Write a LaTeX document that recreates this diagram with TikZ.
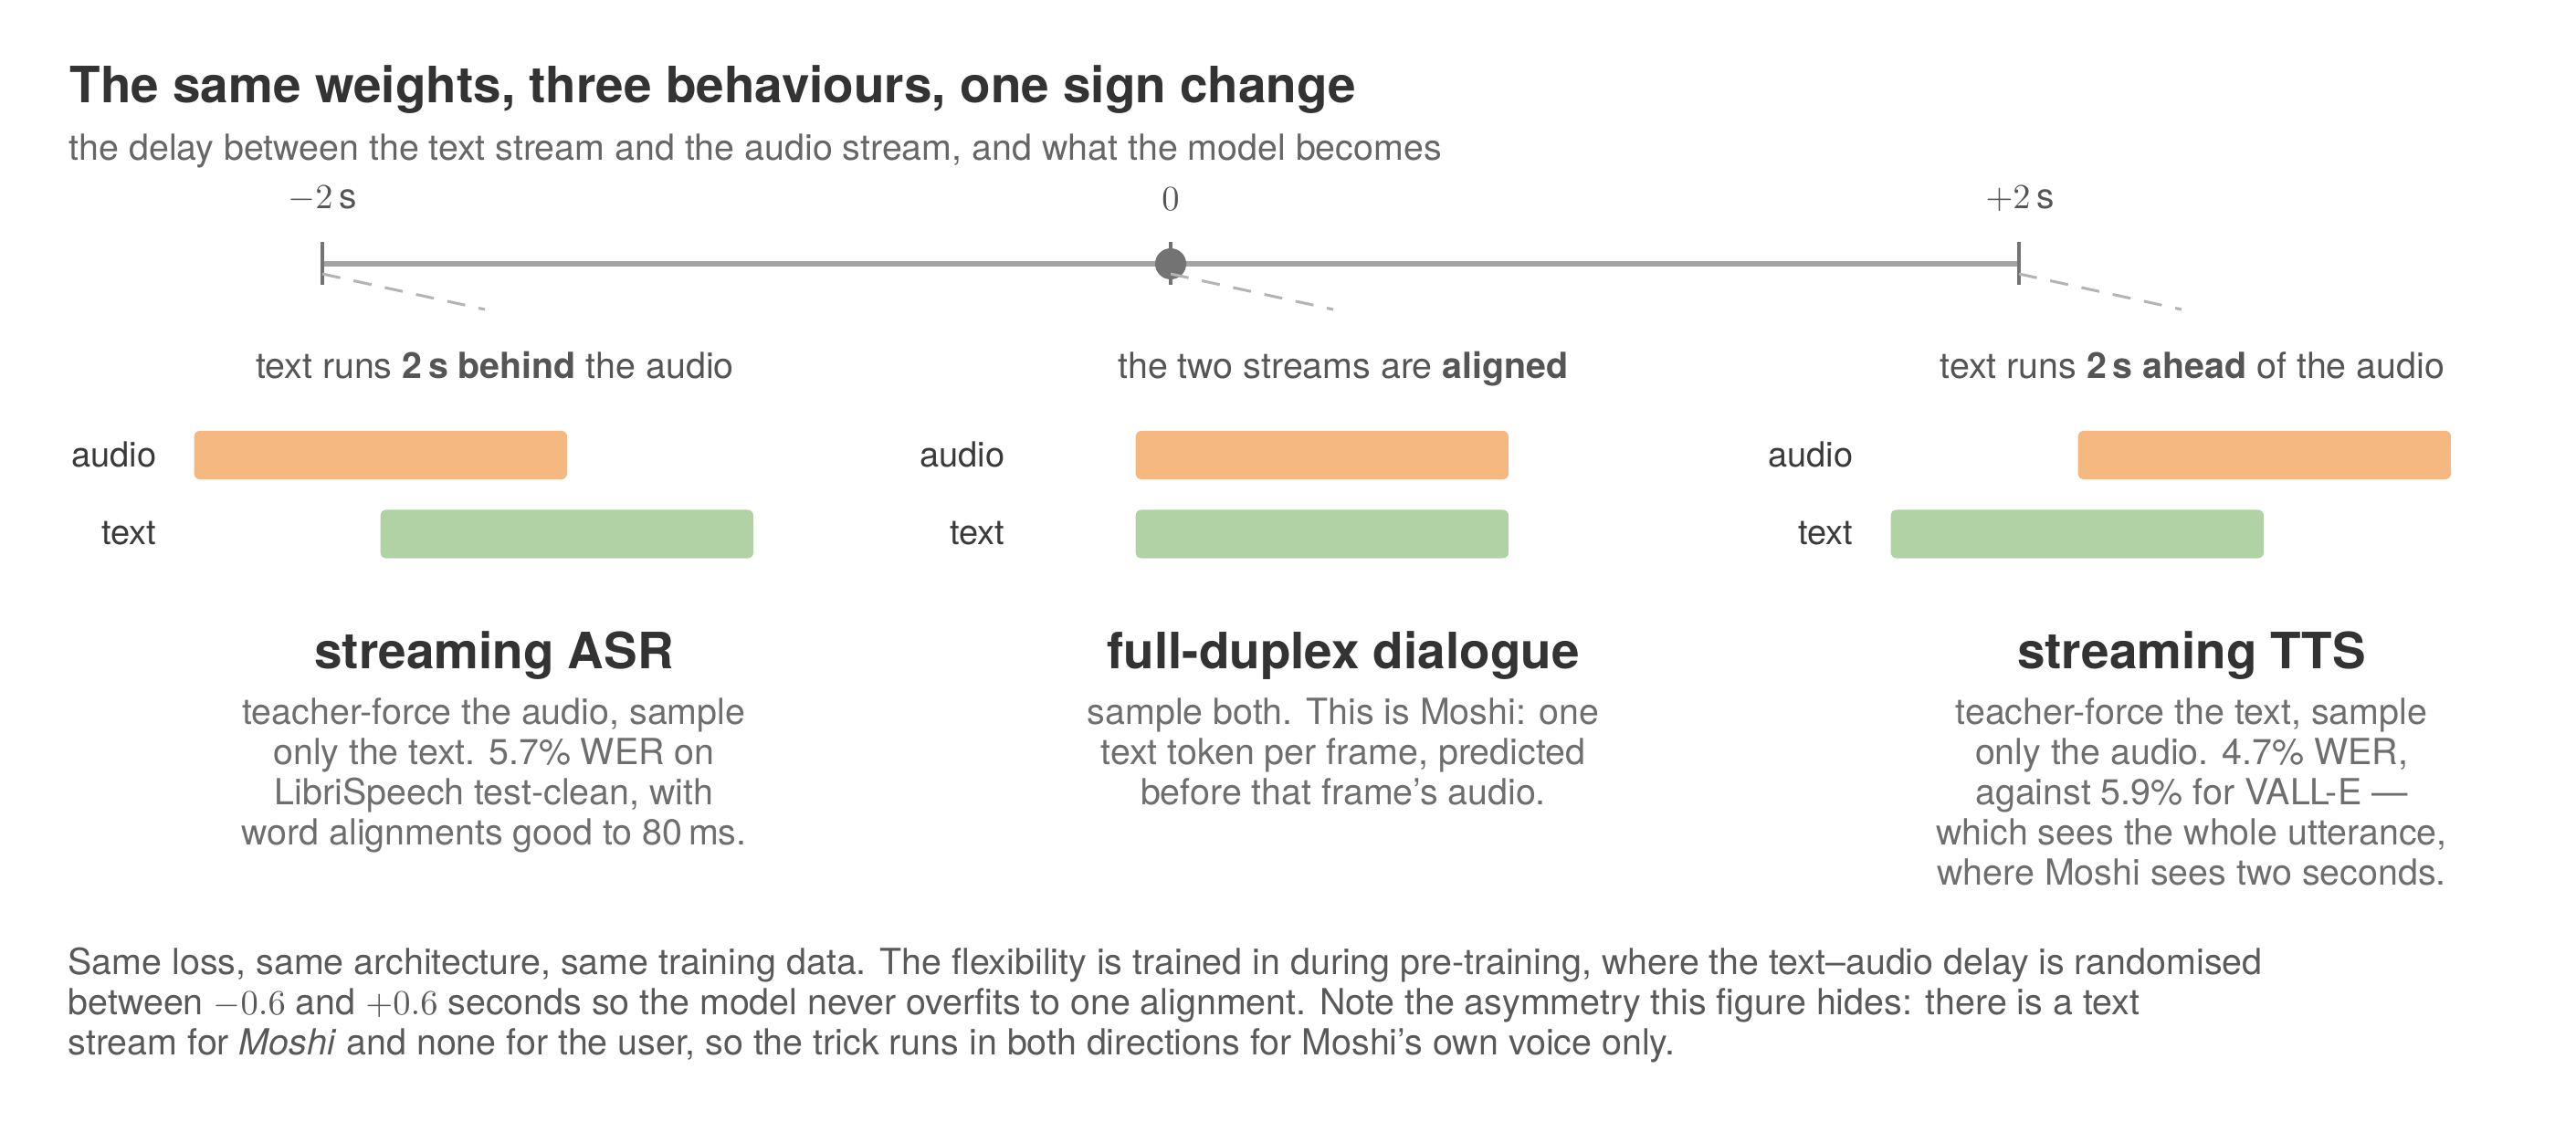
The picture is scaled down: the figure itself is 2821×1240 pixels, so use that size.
\documentclass[tikz,border=0pt]{standalone}
\usepackage{fontspec}
\setmainfont{TeX Gyre Heros}
\definecolor{ink}{HTML}{333333}
\definecolor{subink}{HTML}{666666}
\definecolor{headink}{HTML}{555555}
\definecolor{labink}{HTML}{3A3A3A}
\definecolor{bodyink}{HTML}{6E6E6E}
\definecolor{noteink}{HTML}{595959}
\definecolor{audiofill}{HTML}{F4B880}
\definecolor{textfill}{HTML}{B0D2A4}
\definecolor{axisgray}{HTML}{A3A3A3}
\definecolor{tickgray}{HTML}{737373}
\definecolor{guidegray}{HTML}{B3B3B3}
\begin{document}
\begin{tikzpicture}[x=0.01cm,y=-0.01cm,
    audiobar/.style={fill=audiofill,rounded corners=0.06cm,minimum width=4.08cm,minimum height=0.53cm,anchor=west,inner sep=0},
    textbar/.style={audiobar,fill=textfill},
    streamlab/.style={anchor=base east,inner sep=0,text=labink,font=\fontsize{10.8}{12.5}\selectfont},
    headline/.style={anchor=base,inner sep=0,text=headink,font=\fontsize{11.2}{12.5}\selectfont},
    modetitle/.style={anchor=base,inner sep=0,text=ink,font=\fontsize{15.6}{18}\selectfont\bfseries},
    modebody/.style={anchor=base,inner sep=0,align=center,text=bodyink,font=\fontsize{11.2}{12.5}\selectfont},
    ticklab/.style={anchor=base,inner sep=0,text=headink,font=\fontsize{11}{12}\selectfont},
    tickmark/.style={draw=tickgray,line width=1.1pt},
    guide/.style={draw=guidegray,line width=0.85pt,dash pattern=on 0.2cm off 0.15cm}]
    \useasboundingbox (0,0) rectangle (2821,1240);
    \node[anchor=base west,inner sep=0,text=ink,font=\fontsize{15.6}{18}\selectfont\bfseries] (title) at (76,113) {The same weights, three behaviours, one sign change};
    \node[anchor=base west,inner sep=0,text=subink,font=\fontsize{11.2}{12.5}\selectfont] (subtitle) at (75,176) {the delay between the text stream and the audio stream, and what the model becomes};

    \coordinate (tm) at (353,289);
    \coordinate (t0) at (1282,289);
    \coordinate (tp) at (2211,289);
    \draw[draw=axisgray,line width=1.7pt] (tm) -- (tp);
    \draw[tickmark] ([yshift=0.24cm]tm) -- ([yshift=-0.23cm]tm);
    \draw[tickmark] ([yshift=0.24cm]t0) -- ([yshift=-0.23cm]t0);
    \draw[tickmark] ([yshift=0.24cm]tp) -- ([yshift=-0.23cm]tp);
    \fill[tickgray] (t0) circle (0.17cm);
    \node[ticklab] (tmlab) at (353,229) {$-2\,\mathrm{s}$};
    \node[ticklab] (t0lab) at (1282,231) {$0$};
    \node[ticklab] (tplab) at (2212,229) {$+2\,\mathrm{s}$};
    \coordinate (gm) at (531,339);
    \coordinate (g0) at (1460,339);
    \coordinate (gp) at (2389,339);
    \draw[guide] ([yshift=-0.11cm]tm) -- (gm);
    \draw[guide] ([yshift=-0.11cm]t0) -- (g0);
    \draw[guide] ([yshift=-0.11cm]tp) -- (gp);

    \node[headline] (asrhead) at (542,415) {text runs \textbf{2\,s behind} the audio};
    \node[audiobar] (asraudio) at (212,498.5) {};
    \node[textbar] (asrtext) at (416,585) {};
    \node[streamlab] (asraudiolab) at (172,512) {audio};
    \node[streamlab] (asrtextlab) at (172,597) {text};
    \node[modetitle] (asrtitle) at (541,733) {streaming ASR};
    \node[modebody] (asrbody) at (541,925) {teacher-force the audio, sample\\only the text.  5.7\% WER on\\LibriSpeech test-clean, with\\word alignments good to 80\,ms.};

    \node[headline] (duphead) at (1471,415) {the two streams are \textbf{aligned}};
    \node[audiobar] (dupaudio) at (1243,498.5) {};
    \node[textbar] (duptext) at (1243,585) {};
    \node[streamlab] (dupaudiolab) at (1101,512) {audio};
    \node[streamlab] (duptextlab) at (1101,597) {text};
    \node[modetitle] (duptitle) at (1471,733) {full-duplex dialogue};
    \node[modebody] (dupbody) at (1471,881) {sample both.  This is Moshi: one\\text token per frame, predicted\\before that frame's audio.};

    \node[headline] (ttshead) at (2401,415) {text runs \textbf{2\,s ahead} of the audio};
    \node[audiobar] (ttsaudio) at (2275,498.5) {};
    \node[textbar] (ttstext) at (2070,585) {};
    \node[streamlab] (ttsaudiolab) at (2030,512) {audio};
    \node[streamlab] (ttstextlab) at (2030,597) {text};
    \node[modetitle] (ttstitle) at (2400,733) {streaming TTS};
    \node[modebody] (ttsbody) at (2400,969) {teacher-force the text, sample\\only the audio.  4.7\% WER,\\against 5.9\% for VALL-E ---\\which sees the whole utterance,\\where Moshi sees two seconds.};

    \node[anchor=base west,inner sep=0,align=left,text=noteink,font=\fontsize{11.2}{12.5}\selectfont] (note) at (74,1155) {Same loss, same architecture, same training data.  The flexibility is trained in during pre-training, where the text--audio delay is randomised\\between $-0.6$ and $+0.6$ seconds so the model never overfits to one alignment.  Note the asymmetry this figure hides: there is a text\\stream for \emph{Moshi} and none for the user, so the trick runs in both directions for Moshi's own voice only.};
\end{tikzpicture}
\end{document}
